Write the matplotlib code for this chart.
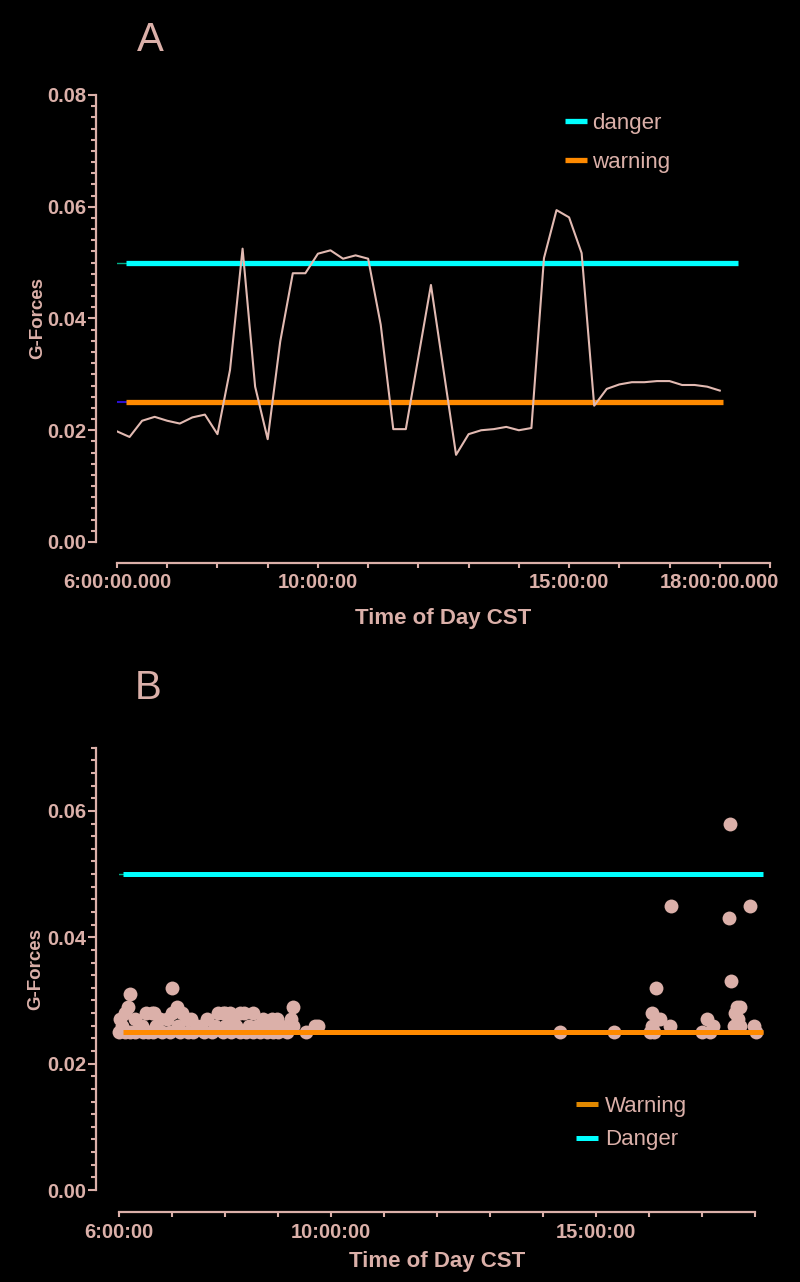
import matplotlib
matplotlib.use("Agg")
import matplotlib.pyplot as plt
from matplotlib.ticker import FixedLocator, MultipleLocator

# ---------------- data ----------------
# Panel A: G-forces over the day (hours)
a_hours = [6.0, 6.25, 6.5, 6.75, 7.0, 7.25, 7.5, 7.75, 8.0, 8.25, 8.5, 8.75,
           9.0, 9.25, 9.5, 9.75, 10.0, 10.25, 10.5, 10.75, 11.0, 11.25, 11.5,
           11.75, 12.25, 12.75, 13.0, 13.25, 13.5, 13.75, 14.0, 14.25, 14.5,
           14.75, 15.0, 15.25, 15.5, 15.75, 16.0, 16.25, 16.5, 16.75, 17.0,
           17.25, 17.5, 17.75, 18.0]
a_gforce = [0.0198, 0.0188, 0.0217, 0.0224, 0.0217, 0.0212, 0.0223, 0.0228,
            0.0193, 0.0308, 0.0525, 0.0278, 0.0184, 0.0359, 0.0481, 0.0481,
            0.0516, 0.0522, 0.0507, 0.0513, 0.0507, 0.0389, 0.0202, 0.0202,
            0.0460, 0.0156, 0.0193, 0.0200, 0.0202, 0.0206, 0.0200, 0.0204,
            0.0508, 0.0594, 0.0581, 0.0517, 0.0244, 0.0274, 0.0282, 0.0286,
            0.0286, 0.0288, 0.0288, 0.0281, 0.0281, 0.0278, 0.0271]

# Panel B: individual events
b_hours = [
    # 0.025 row
    6.0, 6.1, 6.2, 6.3, 6.45, 6.55, 6.64, 6.8, 6.96, 7.15, 7.3, 7.4, 7.59,
    7.75, 7.96, 8.1, 8.28, 8.4, 8.53, 8.65, 8.78, 8.9, 9.0, 9.16, 9.53,
    # 0.026 row
    6.05, 6.42, 6.7, 7.1, 7.46, 7.55, 7.8, 8.0, 8.2, 8.45, 8.6, 8.85, 9.06,
    9.28, 9.69, 9.75,
    # 0.027 row
    6.01, 6.3, 6.77, 7.27, 7.65, 8.72, 8.88, 8.97, 9.25, 6.9, 7.35, 8.15,
    # 0.028 row
    6.1, 6.61, 6.99, 7.18, 7.87, 8.09, 8.28, 8.53, 8.35, 8.0, 7.95, 6.5, 6.65,
    # higher
    6.17, 7.08, 9.27, 6.2, 7.0,
    # afternoon
    14.32, 15.33, 16.1, 16.02, 16.05, 16.06, 16.13, 16.2, 16.4, 16.42, 17.0,
    17.09, 17.15, 17.21, 17.51, 17.52, 17.54, 17.6, 17.62, 17.66, 17.68,
    17.71, 17.72, 17.91, 17.98, 18.01]
b_gforce = (
    [0.025] * 25 + [0.026] * 16 + [0.027] * 12 + [0.028] * 13 +
    [0.029, 0.029, 0.029, 0.031, 0.032] +
    [0.025, 0.025, 0.025, 0.025, 0.026, 0.028, 0.032, 0.027, 0.026, 0.045,
     0.025, 0.027, 0.025, 0.026, 0.043, 0.058, 0.033, 0.026, 0.028, 0.029,
     0.027, 0.026, 0.029, 0.045, 0.026, 0.025])

danger_level = 0.05
warning_level = 0.025

a_xticks = list(range(6, 20))
a_xlabels = ["6:00:00.000", "", "", "", "10:00:00", "", "", "", "", "15:00:00",
             "", "", "18:00:00.000", ""]
b_xticks = list(range(6, 19))
b_xlabels = ["6:00:00", "", "", "", "10:00:00", "", "", "", "", "15:00:00",
             "", "", ""]
a_yticks = [0.00, 0.02, 0.04, 0.06, 0.08]
b_yticks = [0.00, 0.02, 0.04, 0.06]

# ---------------- style ----------------
PINK = "#dbb0a9"
LINEPINK = "#e2bab2"
CYAN = "#00ffff"
ORANGE = "#ff8a00"
FONT = ["Liberation Sans", "DejaVu Sans"]
plt.rcParams["font.family"] = FONT

W, H = 800, 1282
fig = plt.figure(figsize=(W / 100, H / 100), dpi=100, facecolor="black")


def style_axes(ax, ytop, xticks, xlabels, yticks, off_left, off_bottom):
    ax.set_facecolor("black")
    for s in ("top", "right"):
        ax.spines[s].set_visible(False)
    for s in ("left", "bottom"):
        ax.spines[s].set_color(PINK)
        ax.spines[s].set_linewidth(1.6)
    ax.spines["left"].set_position(("outward", off_left))
    ax.spines["bottom"].set_position(("outward", off_bottom))
    ax.set_ylim(0, ytop)
    ax.set_xlim(xticks[0], xticks[-1])
    ax.xaxis.set_major_locator(FixedLocator(xticks))
    ax.set_xticklabels(xlabels)
    ax.yaxis.set_major_locator(FixedLocator(yticks))
    ax.yaxis.set_minor_locator(MultipleLocator(0.002))
    ax.set_yticklabels([f"{v:.2f}" for v in yticks])
    ax.tick_params(axis="y", which="major", length=6, width=1.5, color=PINK,
                   labelcolor=PINK, labelsize=14.5, pad=1)
    ax.tick_params(axis="y", which="minor", length=3.5, width=1.5, color=PINK)
    ax.tick_params(axis="x", which="major", length=3.6, width=1.5, color=PINK,
                   labelcolor=PINK, labelsize=14.5, pad=4)
    for lab in ax.get_xticklabels() + ax.get_yticklabels():
        lab.set_fontweight("bold")


# ---------------- Panel A ----------------
axA = fig.add_axes([117 / W, 1 - 542 / H, 653 / W, 447 / H])
style_axes(axA, 0.08, a_xticks, a_xlabels, a_yticks, 15, 15)
axA.plot([6.0, 6.18], [danger_level] * 2, color="#00b08a", lw=1.0)
axA.plot([6.0, 6.18], [warning_level] * 2, color="#2a10d0", lw=1.5)
axA.plot([6.18, 18.37], [danger_level] * 2, color=CYAN, lw=3.8,
         label="danger", solid_capstyle="butt", clip_on=False)
axA.plot([6.18, 18.07], [warning_level] * 2, color=ORANGE, lw=3.8,
         label="warning", solid_capstyle="butt")
axA.plot(a_hours, a_gforce, color=LINEPINK, lw=1.5)
axA.set_ylabel("G-Forces", color=PINK, fontsize=13.5, fontweight="bold")
axA.yaxis.set_label_coords(-0.108, 0.5)
axA.set_xlabel("Time of Day CST", color=PINK, fontsize=16, fontweight="bold",
               labelpad=11)
legA = axA.legend(loc="upper left", bbox_to_anchor=(565 / W, 1 - 113 / H),
                  bbox_transform=fig.transFigure, frameon=False, fontsize=16,
                  handlelength=1.0, handletextpad=0.2, labelspacing=0.82,
                  borderpad=0, borderaxespad=0)
for t in legA.get_texts():
    t.set_color(PINK)

# ---------------- Panel B ----------------
axB = fig.add_axes([119.3 / W, 1 - 1190 / H, 635.7 / W, 442.3 / H])
style_axes(axB, 0.07, b_xticks, b_xlabels, b_yticks, 17, 16)
axB.plot([6.0, 6.07], [danger_level] * 2, color="#00b08a", lw=1.0)
axB.plot([6.0, 6.07], [warning_level] * 2, color="#4a7ae0", lw=1.5)
axB.scatter(b_hours, b_gforce, s=100, color=PINK, linewidths=0, zorder=3,
            clip_on=False)
axB.plot([6.07, 18.15], [warning_level] * 2, color=ORANGE, lw=3.6,
         label="Warning", solid_capstyle="butt", clip_on=False, zorder=4)
axB.plot([6.07, 18.15], [danger_level] * 2, color=CYAN, lw=3.6,
         label="Danger", solid_capstyle="butt", clip_on=False)
axB.set_ylabel("G-Forces", color=PINK, fontsize=13.5, fontweight="bold")
axB.yaxis.set_label_coords(-0.118, 0.5)
axB.set_xlabel("Time of Day CST", color=PINK, fontsize=16, fontweight="bold",
               labelpad=7)
legB = axB.legend(loc="upper left", bbox_to_anchor=(576 / W, 1 - 1096 / H),
                  bbox_transform=fig.transFigure, frameon=False, fontsize=16,
                  handlelength=1.0, handletextpad=0.3, labelspacing=0.56,
                  borderpad=0, borderaxespad=0)
legB.get_lines()[0].set_color("#e08800")
for t in legB.get_texts():
    t.set_color(PINK)

# panel letters
fig.text(150 / W, 1 - 40 / H, "A", color=PINK, fontsize=29, ha="center",
         va="center")
fig.text(148 / W, 1 - 688 / H, "B", color=PINK, fontsize=29, ha="center",
         va="center")

fig.savefig("out.png", dpi=100, facecolor="black")
